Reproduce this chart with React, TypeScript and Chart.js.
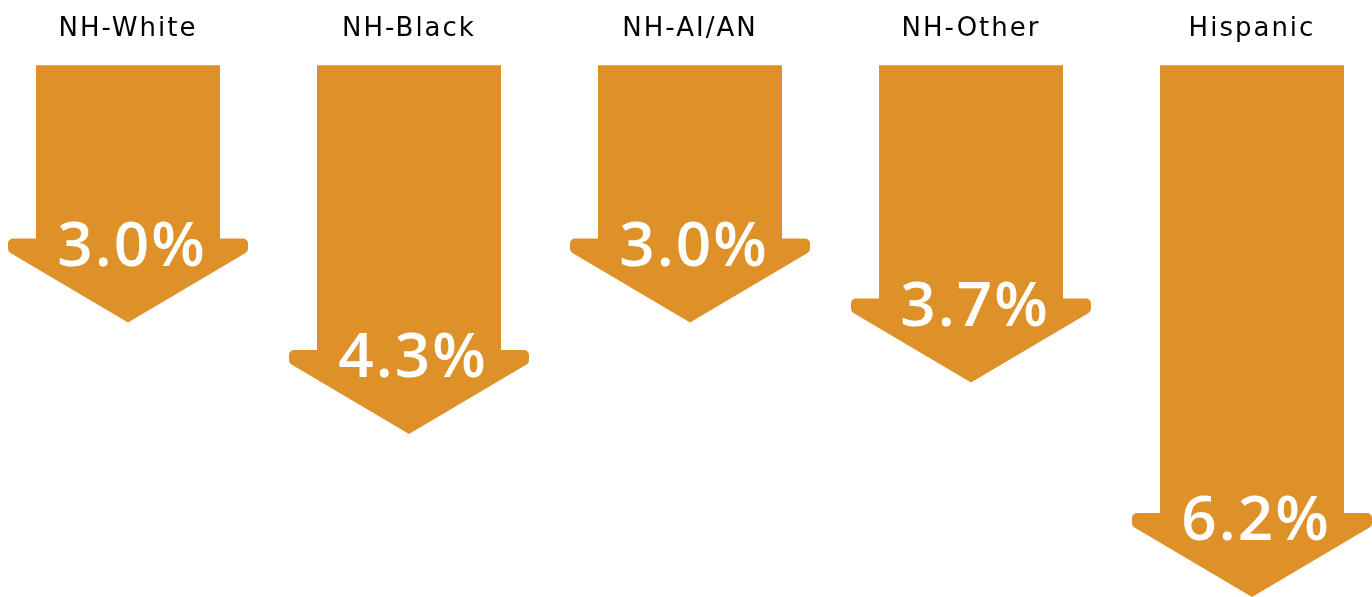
import React, { useEffect, useRef } from "react";
import { Chart, registerables } from "chart.js";

Chart.register(...registerables);

const categories = ["NH-White", "NH-Black", "NH-AI/AN", "NH-Other", "Hispanic"];
const declines = [3.0, 4.3, 3.0, 3.7, 6.2];
const valueLabels = ["3.0%", "4.3%", "3.0%", "3.7%", "6.2%"];

const ARROW_COLOR = "#de9129";

const spacingPlugin = {
  id: "spacingPlugin",
  beforeDraw(chart: any) {
    chart.ctx.letterSpacing = "2px";
  },
};

const arrowPlugin = {
  id: "arrowPlugin",
  afterDatasetsDraw(chart: any) {
    const ctx = chart.ctx;
    const meta = chart.getDatasetMeta(0);
    meta.data.forEach((el: any, i: number) => {
      const { x, y, base, width } = el.getProps(["x", "y", "base", "width"], true);
      const half = width / 2;
      const headHalf = 120;
      const headH = 84;
      const side = 13;
      const tip = y;
      const flange = tip - headH;
      const r = 5;
      ctx.save();
      ctx.fillStyle = ARROW_COLOR;
      ctx.beginPath();
      ctx.moveTo(x - half, base);
      ctx.lineTo(x - half, flange);
      ctx.arcTo(x - headHalf, flange, x - headHalf, flange + side, r);
      ctx.arcTo(x - headHalf, flange + side, x, tip, r);
      ctx.lineTo(x, tip);
      ctx.arcTo(x + headHalf, flange + side, x + headHalf, flange, r);
      ctx.arcTo(x + headHalf, flange, x + half, flange, r);
      ctx.lineTo(x + half, flange);
      ctx.lineTo(x + half, base);
      ctx.closePath();
      ctx.fill();
      ctx.letterSpacing = "2px";
      ctx.fillStyle = "#ffffff";
      ctx.font = "600 62px 'Open Sans'";
      ctx.textAlign = "center";
      ctx.textBaseline = "alphabetic";
      ctx.fillText(valueLabels[i], x + 4, tip - 57);
      ctx.restore();
    });
  },
};

export default function App() {
  const canvasRef = useRef<HTMLCanvasElement | null>(null);

  useEffect(() => {
    if (!canvasRef.current) return;
    const chart = new Chart(canvasRef.current, {
      type: "bar",
      data: {
        labels: categories,
        datasets: [
          {
            data: declines,
            backgroundColor: "rgba(0,0,0,0)",
            borderWidth: 0,
            barThickness: 184,
          },
        ],
      },
      options: {
        animation: false,
        responsive: true,
        maintainAspectRatio: false,
        layout: { padding: { top: -6, left: 128, right: 120, bottom: 0 } },
        plugins: { legend: { display: false }, tooltip: { enabled: false } },
        scales: {
          x: {
            position: "top",
            offset: false,
            grid: { display: false, drawTicks: false },
            border: { display: false },
            ticks: {
              color: "#000000",
              padding: 20,
              maxRotation: 0,
              autoSkip: false,
              font: { family: "'DejaVu Sans'", size: 26 },
            },
          },
          y: {
            display: false,
            reverse: true,
            min: 0,
            max: 6.2,
          },
        },
      },
      plugins: [spacingPlugin, arrowPlugin],
    });
    return () => chart.destroy();
  }, []);

  return (
    <div style={{ position: "fixed", left: 0, top: 0, width: 1372, height: 597, background: "#ffffff" }}>
      <canvas ref={canvasRef} />
    </div>
  );
}
